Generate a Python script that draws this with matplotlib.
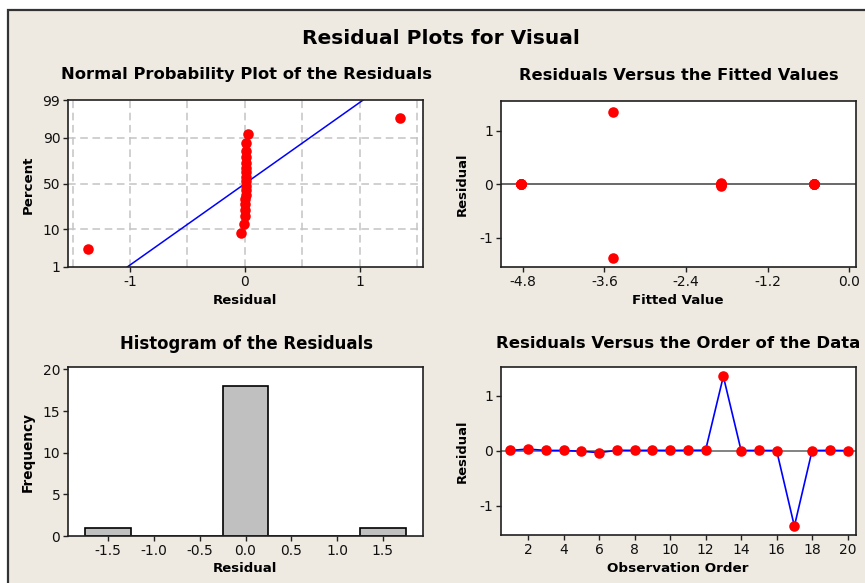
import matplotlib
matplotlib.use("Agg")
import matplotlib.pyplot as plt
from matplotlib.patches import Rectangle
from statistics import NormalDist
import numpy as np

# ---------------- data ----------------
observation = list(range(1, 21))
residuals = [0.005, 0.03, 0.005, 0.005, -0.01, -0.035, 0.008, 0.006, 0.007, 0.006,
             0.008, 0.009, 1.35, 0.004, 0.005, 0.003, -1.37, 0.004, 0.006, 0.002]
fitted = [-4.82, -1.89, -4.82, -0.52, -1.89, -1.89, -0.52, -4.82, -1.89, -0.52,
          -4.82, -0.52, -3.47, -4.82, -0.52, -1.89, -3.47, -4.82, -0.52, -1.89]
hist_centers = [-1.5, -1.0, -0.5, 0.0, 0.5, 1.0, 1.5]
hist_counts = [1, 0, 0, 18, 0, 0, 1]
pct_ticks = [1, 10, 50, 90, 99]
fit_ticks = [-4.8, -3.6, -2.4, -1.2, 0.0]
hist_ticks = [-1.5, -1.0, -0.5, 0.0, 0.5, 1.0, 1.5]
order_ticks = [2, 4, 6, 8, 10, 12, 14, 16, 18, 20]

W, H = 865, 583
BEIGE = "#EEEAE1"
RED = "#FF0000"
BLUE = "#0000FF"

plt.rcParams["font.family"] = ["DejaVu Sans"]
fig = plt.figure(figsize=(W / 100, H / 100), dpi=100)
fig.patch.set_facecolor("white")
fig.patches.append(Rectangle((8 / W, -0.05), 1.2, 1 - 10 / H + 0.05, transform=fig.transFigure,
                             facecolor=BEIGE, edgecolor="#333333", linewidth=1.6, zorder=-10))


def add_ax(l, r, t, b):
    ax = fig.add_axes([l / W, 1 - b / H, (r - l) / W, (b - t) / H])
    ax.set_facecolor("white")
    for s in ax.spines.values():
        s.set_color("#202020")
        s.set_linewidth(1.2)
    ax.tick_params(direction="out", length=3.5, width=1, labelsize=10, pad=2,
                   colors="#202020", labelcolor="#101010")
    return ax


def ftext(x, y, s, size, rot=0, bold=True):
    return fig.text(x / W, 1 - y / H, s, ha="center", va="center", rotation=rot,
                    fontsize=size, fontweight="bold" if bold else "normal", color="black")


def fit(t, target, vertical=False):
    fig.canvas.draw()
    bb = t.get_window_extent(fig.canvas.get_renderer())
    cur = bb.height if vertical else bb.width
    t.set_fontsize(t.get_fontsize() * target / cur)


nd = NormalDist()
MS = 7.6

# ---------------- normal probability plot ----------------
ax1 = add_ax(68, 423, 100, 267)
n = len(residuals)
srt = np.sort(residuals)
zq = [nd.inv_cdf((i + 1 - 0.3) / (n + 0.4)) for i in range(n)]
mu, sd = float(np.mean(residuals)), float(np.std(residuals, ddof=1))
zlo, zhi = nd.inv_cdf(0.01), nd.inv_cdf(0.99)
for gx in hist_ticks:
    ax1.axvline(gx, color="#C4C4C4", linestyle=(0, (5, 3)), linewidth=1.1, zorder=0)
for p in [10, 50, 90]:
    ax1.axhline(nd.inv_cdf(p / 100), color="#C4C4C4", linestyle=(0, (5, 3)), linewidth=1.1, zorder=0)
ax1.plot([mu + sd * zlo, mu + sd * zhi], [zlo, zhi], color=BLUE, linewidth=1.1, zorder=2)
ax1.plot(srt, zq, "o", color=RED, markersize=MS, markeredgewidth=0, zorder=3)
ax1.set_ylim(zlo, zhi)
ax1.set_xlim(-1.54, 1.55)
ax1.set_yticks([nd.inv_cdf(p / 100) for p in pct_ticks])
ax1.set_yticklabels([str(p) for p in pct_ticks])
ax1.set_xticks([-1, 0, 1])
ax1.set_xticklabels(["-1", "0", "1"])

# ---------------- residuals vs fitted ----------------
ax2 = add_ax(501, 856, 101, 267)
ax2.axhline(0, color="#404040", linewidth=1.1, zorder=1)
ax2.plot(fitted, residuals, "o", color=RED, markersize=MS, markeredgewidth=0, zorder=3)
ax2.set_xlim(-5.12, 0.1)
ax2.set_ylim(-1.54, 1.55)
ax2.set_xticks(fit_ticks)
ax2.set_xticklabels([f"{v:.1f}" for v in fit_ticks])
ax2.set_yticks([-1, 0, 1])
ax2.set_yticklabels(["-1", "0", "1"])

# ---------------- histogram ----------------
ax3 = add_ax(68, 423, 367, 536)
ax3.bar(hist_centers, hist_counts, width=0.5, color="#C0C0C0", edgecolor="black",
        linewidth=1.2, zorder=2)
ax3.set_xlim(-1.94, 1.94)
ax3.set_ylim(0, 20.3)
ax3.set_yticks([0, 5, 10, 15, 20])
ax3.set_xticks(hist_ticks)
ax3.set_xticklabels([f"{v:.1f}" for v in hist_ticks])

# ---------------- residuals vs order ----------------
ax4 = add_ax(501, 856, 367, 535)
ax4.axhline(0, color="#606060", linewidth=1.1, zorder=1)
ax4.plot(observation, residuals, "-", color=BLUE, linewidth=1.2, zorder=2)
ax4.plot(observation, residuals, "o", color=RED, markersize=MS, markeredgewidth=0, zorder=3)
ax4.set_xlim(0.48, 20.47)
ax4.set_ylim(-1.53, 1.52)
ax4.set_xticks(order_ticks)
ax4.set_yticks([-1, 0, 1])
ax4.set_yticklabels(["-1", "0", "1"])

# ---------------- titles & labels ----------------
t0 = ftext(440.5, 38, "Residual Plots for Visual", 15)
t1 = ftext(246, 75, "Normal Probability Plot of the Residuals", 11)
t2 = ftext(678.5, 75, "Residuals Versus the Fitted Values", 11)
t3 = ftext(246, 344, "Histogram of the Residuals", 11)
t4 = ftext(678, 344, "Residuals Versus the Order of the Data", 11)
l1 = ftext(245, 300, "Residual", 9.5)
l2 = ftext(28, 185, "Percent", 9.5, rot=90)
l3 = ftext(678, 300, "Fitted Value", 9.5)
l4 = ftext(462, 184, "Residual", 9.5, rot=90)
l5 = ftext(28, 452, "Frequency", 9.5, rot=90)
l6 = ftext(245, 569, "Residual", 9.5)
l7 = ftext(678, 569, "Observation Order", 9.5)
l8 = ftext(462, 451, "Residual", 9.5, rot=90)

fit(t0, 277)
for t, w in [(t1, 370), (t2, 317), (t3, 252), (t4, 362)]:
    fit(t, w)
for t, w in [(l1, 65), (l3, 92), (l6, 65), (l7, 142)]:
    fit(t, w)
for t, w in [(l2, 59, ), (l4, 64), (l5, 80), (l8, 64)]:
    fit(t, w, vertical=True)

fig.savefig("out.png", dpi=100, facecolor=fig.get_facecolor())
